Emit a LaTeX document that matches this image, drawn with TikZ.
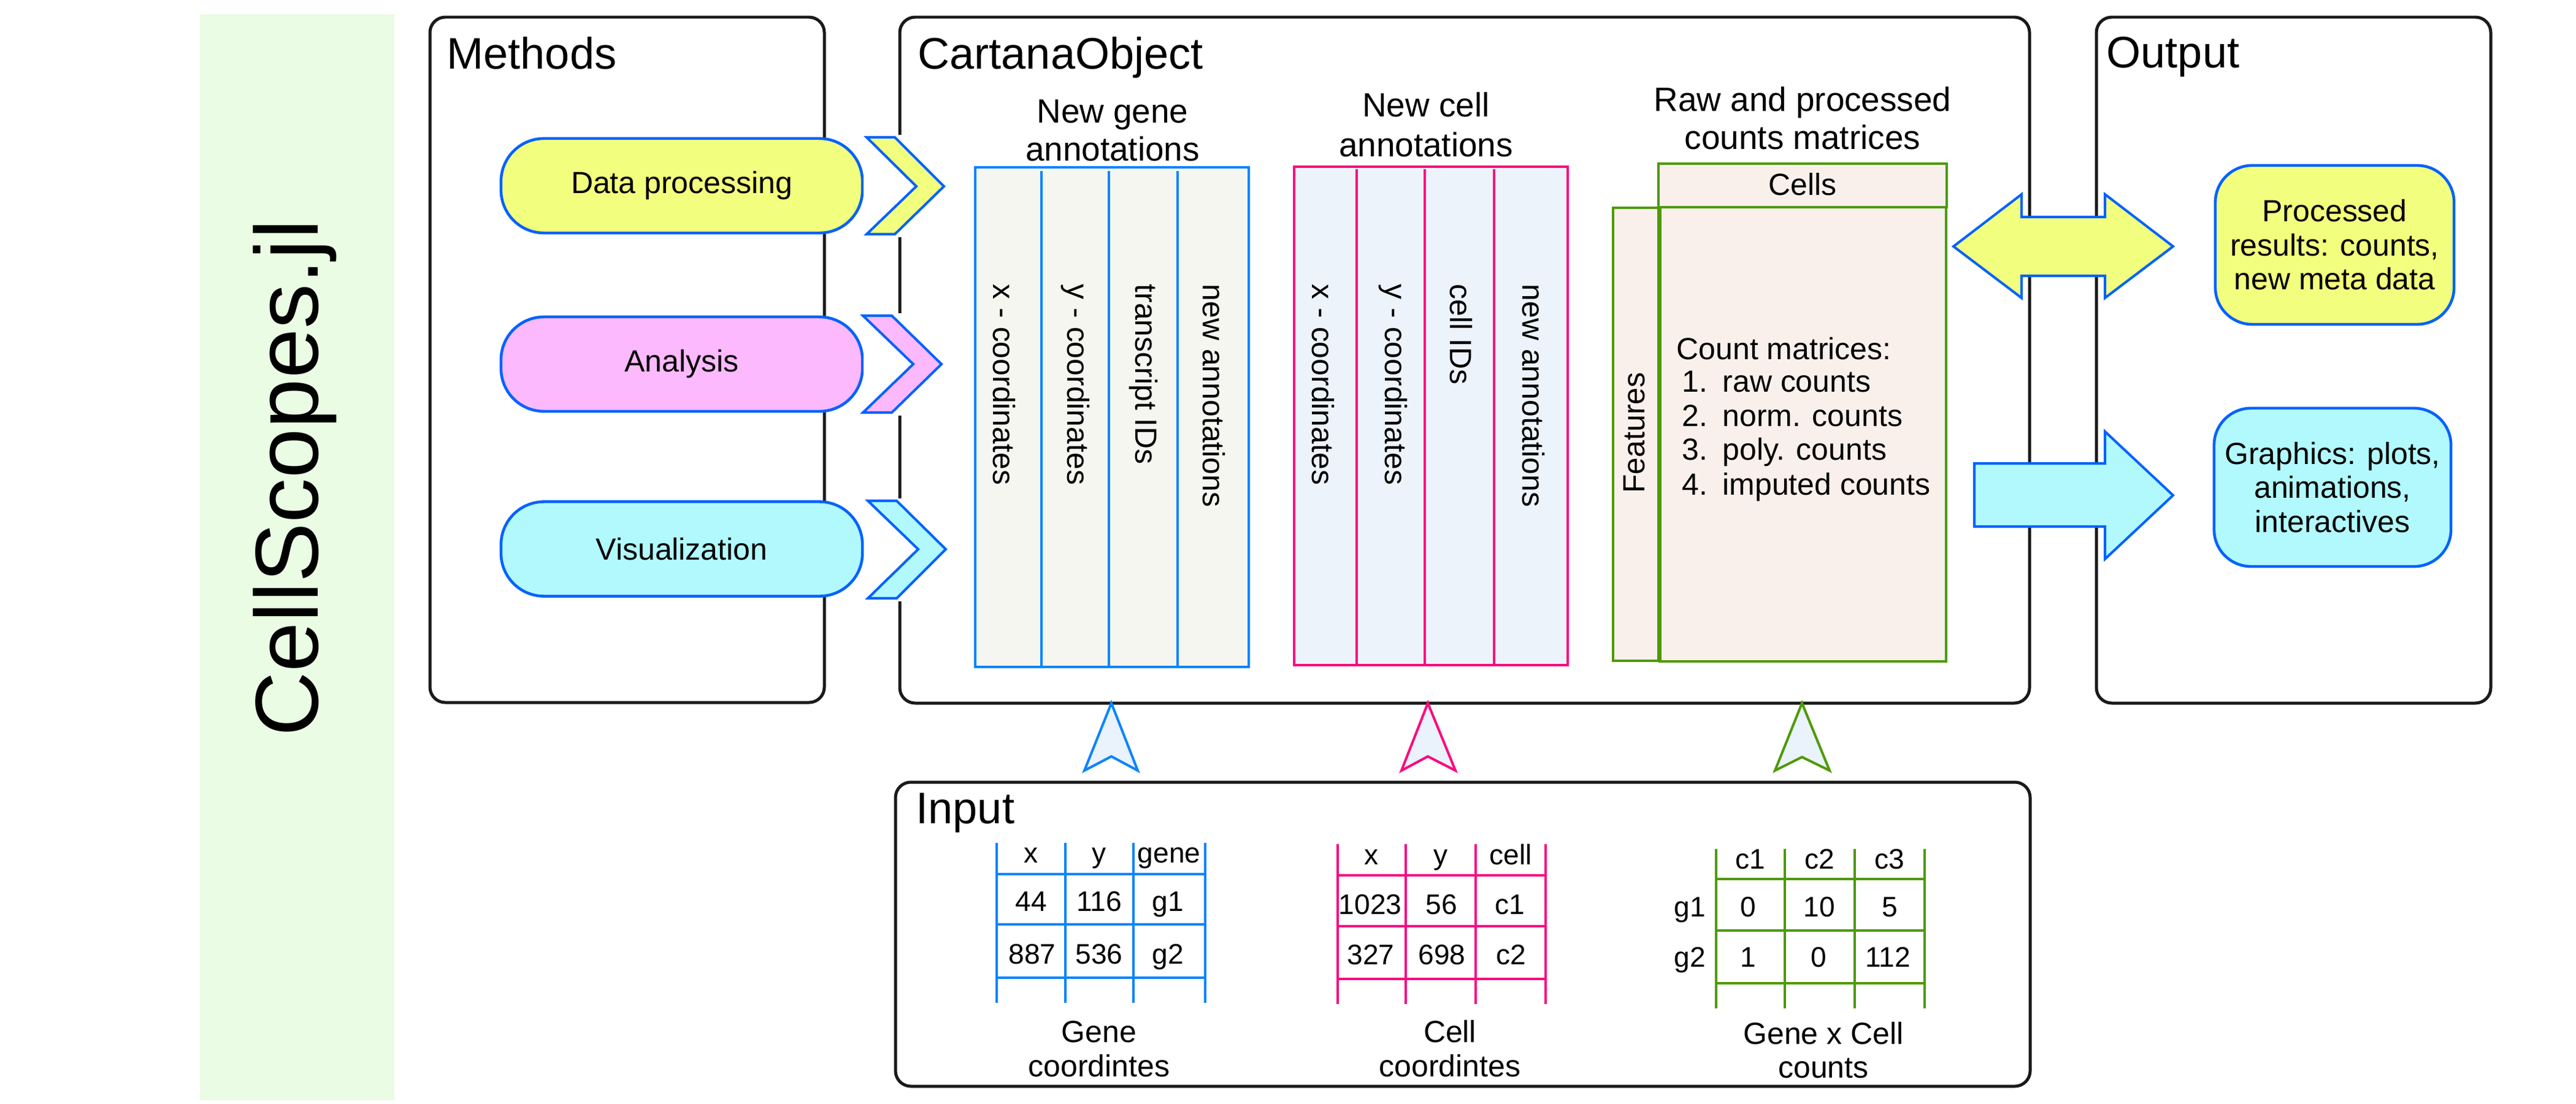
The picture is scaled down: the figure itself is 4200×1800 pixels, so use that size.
\documentclass[tikz,border=0pt]{standalone}
\usepackage{fontspec}
\setmainfont{Liberation Sans}
\definecolor{boxline}{HTML}{1A1A1A}
\definecolor{pillblue}{HTML}{0062FF}
\definecolor{tblue}{HTML}{0A84FF}
\definecolor{tpink}{HTML}{FA0A80}
\definecolor{tgreen}{HTML}{4E9A06}
\definecolor{fyellow}{HTML}{F2FE7D}
\definecolor{fpink}{HTML}{FDB9FD}
\definecolor{fcyan}{HTML}{B1F9FD}
\definecolor{fband}{HTML}{EAFCE3}
\definecolor{fgene}{HTML}{F4F6EF}
\definecolor{fcell}{HTML}{EDF3FB}
\definecolor{fcount}{HTML}{FAF0EB}
\definecolor{fhead}{HTML}{EAF2FB}
\newcommand\fTitle{\fontsize{20.5pt}{24pt}\selectfont}
\newcommand\fHead{\fontsize{15.6pt}{18pt}\selectfont}
\newcommand\fBody{\fontsize{14.2pt}{15.8pt}\selectfont}
\newcommand\fTab{\fontsize{13.1pt}{15pt}\selectfont}
\newcommand\fBig{\fontsize{41.5pt}{48pt}\selectfont}
\tikzset{
  bigbox/.style={draw=boxline, line width=1.42pt, rounded corners=0.25cm},
  titletxt/.style={font=\fTitle, anchor=base west, inner sep=0pt},
  pill/.style={draw=pillblue, line width=1.3pt, rounded corners=0.7cm, inner sep=0pt,
    font=\fBody, minimum width=5.89cm, minimum height=1.54cm},
  outbox/.style={draw=pillblue, line width=1.3pt, rounded corners=0.6cm, inner sep=0pt,
    font=\fBody, align=center, minimum width=3.89cm, minimum height=2.59cm},
  chev/.style={draw=pillblue, line width=1.15pt},
  headtxt/.style={font=\fHead, anchor=base, inner sep=0pt},
  rottxt/.style={font=\fBody, rotate=-90, anchor=west, inner sep=0pt},
  tabtxt/.style={font=\fTab, anchor=base, inner sep=0pt},
  captxt/.style={font=\fBody, anchor=base, inner sep=0pt},
  listtxt/.style={font=\fBody, anchor=base west, inner sep=0pt},
  tline/.style={line width=1.1pt},
  hline/.style={line width=1.3pt},
  dart/.style={line width=1.15pt, fill=fhead},
}
\begin{document}
\begin{tikzpicture}[x=0.01cm, y=-0.01cm]
\useasboundingbox (0,0) rectangle (4200,1800);
\fill[white] (0,0) rectangle (4200,1800);

% side band
\fill[fband] (326,23) rectangle (643,1795);
\node[font=\fBig, rotate=90, anchor=base, inner sep=0pt] (brand) at (518,780) {CellScopes.jl};

% big boxes
\draw[bigbox] (701,28) rectangle (1344,1146);
\draw[bigbox] (1467,28) rectangle (3309,1147);
\draw[bigbox] (3418,28) rectangle (4061,1147);
\draw[bigbox] (1460,1276) rectangle (3310,1772);
\node[titletxt] (tmethods) at (728,113) {Methods};
\node[titletxt] (tcartana) at (1496,113) {CartanaObject};
\node[titletxt] (toutput) at (3434,111) {Output};
\node[titletxt] (tinput) at (1493,1343) {Input};

% method pills
\node[pill, fill=fyellow] (pdata) at (1111.5,303) {Data processing};
\node[pill, fill=fpink] (pana) at (1111.5,594) {Analysis};
\node[pill, fill=fcyan] (pvis) at (1111.5,895.5) {Visualization};

% chevrons
\fill[white] (1408,220) rectangle (1545,387);
\fill[white] (1408,511) rectangle (1541,678);
\fill[white] (1410,813) rectangle (1548,981);
\draw[chev, fill=fyellow] (1413,224) -- (1459,224) -- (1539,304) -- (1459,382) -- (1413,382) -- (1494,304) -- cycle;
\draw[chev, fill=fpink] (1407,515) -- (1454,515) -- (1535,594) -- (1454,673) -- (1407,673) -- (1489,594) -- cycle;
\draw[chev, fill=fcyan] (1415,817) -- (1462,817) -- (1542,896) -- (1462,976) -- (1415,976) -- (1497,896) -- cycle;

% gene annotations
\node[headtxt] (hgene1) at (1814,200) {New gene};
\node[headtxt] (hgene2) at (1814,262) {annotations};
\draw[tline, draw=tblue, fill=fgene] (1590,273) rectangle (2036,1088);
\foreach \xx in {1698,1808,1920} \draw[tline, tblue] (\xx,279) -- (\xx,1088);
\node[rottxt] (gx) at (1637,463) {x - coordinates};
\node[rottxt] (gy) at (1753,463) {y - coordinates};
\node[rottxt] (gt) at (1864,463) {transcript IDs};
\node[rottxt] (gn) at (1979,463) {new annotations};

% cell annotations
\node[headtxt] (hcell1) at (2325,191) {New cell};
\node[headtxt] (hcell2) at (2325,255) {annotations};
\draw[tline, draw=tpink, fill=fcell] (2110,272) rectangle (2556,1085);
\foreach \xx in {2212,2323,2436} \draw[tline, tpink] (\xx,276) -- (\xx,1085);
\node[rottxt] (cx) at (2157,463) {x - coordinates};
\node[rottxt] (cy) at (2271,463) {y - coordinates};
\node[rottxt] (ci) at (2382,463) {cell IDs};
\node[rottxt] (cn) at (2500,463) {new annotations};

% count matrices
\node[headtxt] (hraw1) at (2939,182) {Raw and processed};
\node[headtxt] (hraw2) at (2939,244) {counts matrices};
\draw[tline, draw=tgreen, fill=fcount] (2630,339) rectangle (2704,1078);
\draw[tline, draw=tgreen, fill=fcount] (2704,267) rectangle (3174,338);
\draw[tline, draw=tgreen, fill=fcount] (2706,338) rectangle (3173,1079);
\draw[line width=1.5pt, tgreen] (2706,338) -- (2706,1079);
\node[font=\fBody, inner sep=0pt] (cells) at (2939,301) {Cells};
\node[font=\fBody, rotate=90, inner sep=0pt] (feat) at (2665,706) {Features};
\node[listtxt] (lhead) at (2733,586) {Count matrices:};
\node[listtxt] (l1n) at (2742,639) {1.};
\node[listtxt] (l2n) at (2742,695) {2.};
\node[listtxt] (l3n) at (2742,750) {3.};
\node[listtxt] (l4n) at (2742,807) {4.};
\node[listtxt] (l1) at (2808,639) {raw counts};
\node[listtxt] (l2) at (2808,695) {norm. counts};
\node[listtxt] (l3) at (2808,750) {poly. counts};
\node[listtxt] (l4) at (2808,807) {imputed counts};

% output
\draw[chev, fill=fyellow] (3185,402) -- (3296,317) -- (3296,354) -- (3432,354) -- (3432,317) -- (3543,402) -- (3432,486) -- (3432,450) -- (3296,450) -- (3296,486) -- cycle;
\draw[chev, fill=fcyan] (3219,756) -- (3432,756) -- (3432,704) -- (3543,808) -- (3432,912) -- (3432,859) -- (3219,859) -- cycle;
\node[outbox, fill=fyellow] (oproc) at (3806.5,399.5) {Processed\\results: counts,\\new meta data};
\node[outbox, fill=fcyan, minimum width=3.86cm, minimum height=2.58cm] (ograph) at (3803,795) {Graphics: plots,\\animations,\\interactives};

% input arrowheads
\draw[dart, draw=tblue] (1812,1147) -- (1855,1257) -- (1812,1234) -- (1768,1257) -- cycle;
\draw[dart, draw=tpink] (2328,1147) -- (2373,1257) -- (2328,1234) -- (2285,1257) -- cycle;
\draw[dart, draw=tgreen] (2938,1147) -- (2983,1257) -- (2938,1235) -- (2894,1257) -- cycle;

% gene coordinates table
\foreach \xx in {1625,1737,1848,1965} \draw[tline, tblue] (\xx,1375) -- (\xx,1636);
\foreach \yy in {1426,1508,1595} \draw[hline, tblue] (1625,\yy) -- (1965,\yy);
\node[tabtxt] (g00) at (1681,1407) {x};
\node[tabtxt] (g01) at (1792,1407) {y};
\node[tabtxt] (g02) at (1906,1407) {gene};
\node[tabtxt] (g10) at (1681,1486) {44};
\node[tabtxt] (g11) at (1792,1486) {116};
\node[tabtxt] (g12) at (1904,1486) {g1};
\node[tabtxt] (g20) at (1683,1572) {887};
\node[tabtxt] (g21) at (1792,1572) {536};
\node[tabtxt] (g22) at (1904,1572) {g2};
\node[captxt] (gcap1) at (1792,1700) {Gene};
\node[captxt] (gcap2) at (1792,1756) {coordintes};

% cell coordinates table
\foreach \xx in {2181,2292,2406,2520} \draw[tline, tpink] (\xx,1377) -- (\xx,1638);
\foreach \yy in {1428,1511,1597} \draw[hline, tpink] (2181,\yy) -- (2520,\yy);
\node[tabtxt] (c00) at (2236,1410) {x};
\node[tabtxt] (c01) at (2349,1410) {y};
\node[tabtxt] (c02) at (2463,1410) {cell};
\node[tabtxt] (c10) at (2234,1491) {1023};
\node[tabtxt] (c11) at (2350,1491) {56};
\node[tabtxt] (c12) at (2462,1491) {c1};
\node[tabtxt] (c20) at (2235,1573) {327};
\node[tabtxt] (c21) at (2351,1573) {698};
\node[tabtxt] (c22) at (2464,1573) {c2};
\node[captxt] (ccap1) at (2364,1700) {Cell};
\node[captxt] (ccap2) at (2364,1756) {coordintes};

% gene x cell table
\foreach \xx in {2798,2910,3024,3138} \draw[tline, tgreen] (\xx,1385) -- (\xx,1645);
\foreach \yy in {1434,1518,1604} \draw[hline, tgreen] (2798,\yy) -- (3138,\yy);
\node[tabtxt] (m01) at (2854,1417) {c1};
\node[tabtxt] (m02) at (2967,1417) {c2};
\node[tabtxt] (m03) at (3081,1417) {c3};
\node[tabtxt] (m10) at (2755,1495) {g1};
\node[tabtxt] (m11) at (2850,1495) {0};
\node[tabtxt] (m12) at (2966,1495) {10};
\node[tabtxt] (m13) at (3081,1495) {5};
\node[tabtxt] (m20) at (2755,1577) {g2};
\node[tabtxt] (m21) at (2850,1577) {1};
\node[tabtxt] (m22) at (2965,1577) {0};
\node[tabtxt] (m23) at (3078,1577) {112};
\node[captxt] (mcap1) at (2973,1703) {Gene x Cell};
\node[captxt] (mcap2) at (2973,1758) {counts};
\end{tikzpicture}
\end{document}
